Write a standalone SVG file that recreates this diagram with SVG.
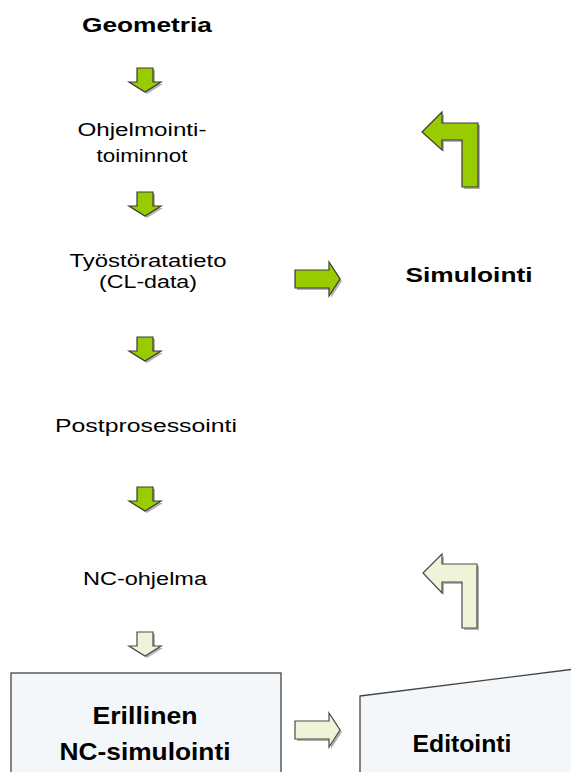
<svg xmlns="http://www.w3.org/2000/svg" width="571" height="772" viewBox="0 0 571 772">
<style>
text{font-family:"Liberation Sans",Arial,sans-serif;fill:#000;text-anchor:middle}
.n{font-size:17.5px}
.b{font-size:20.5px;font-weight:bold}
.bb{font-size:24px;font-weight:bold}
.g{fill:#99cc00;stroke:#3a3a3a;stroke-width:1.2}
.l{fill:#eef4d8;stroke:#4a4a4a;stroke-width:1.2}
.sh{fill:#555;opacity:0.45}
.box{fill:#f4f7fa;stroke:#444;stroke-width:1.3}
</style>
<defs>
<path id="dn" d="M-8,0 H8 V14 H16 L0,24 L-16,14 H-8 Z"/>
<path id="rt" d="M0,-9 H34 V-17 L45,0 L34,17 V9 H0 Z"/>
</defs>
<rect width="571" height="772" fill="#fff"/>
<g id="connectors">
<use href="#dn" class="sh" transform="translate(147,70)"/>
<use href="#dn" class="g" transform="translate(145,68)"/>
<use href="#dn" class="sh" transform="translate(147,194)"/>
<use href="#dn" class="g" transform="translate(145,192)"/>
<use href="#dn" class="sh" transform="translate(147,339)"/>
<use href="#dn" class="g" transform="translate(145,337)"/>
<use href="#dn" class="sh" transform="translate(147,489)"/>
<use href="#dn" class="g" transform="translate(145,487)"/>
<use href="#dn" class="sh" transform="translate(147,634)"/>
<use href="#dn" class="l" transform="translate(145,632)"/>
<use href="#rt" class="sh" transform="translate(297,281)"/>
<use href="#rt" class="g" transform="translate(295,279)"/>
<use href="#rt" class="sh" transform="translate(297,732)"/>
<use href="#rt" class="l" transform="translate(295,730)"/>
<path class="sh" d="M424,134 L444,114 V125 H480 V189 H464 V142 H444 V152 Z"/>
<path class="g" d="M422,132 L442,112 V123 H478 V187 H462 V140 H442 V150 Z"/>
<path class="sh" d="M425,575 L444,556 V566 H479 V630 H464 V584 H444 V595 Z"/>
<path class="l" d="M423,573 L442,554 V564 H477 V628 H462 V582 H442 V593 Z"/>
</g>
<g id="geometria"><text class="b" x="147" y="32" textLength="130" lengthAdjust="spacingAndGlyphs">Geometria</text></g>
<g id="ohjelmointitoiminnot">
<text class="n" x="142" y="136" textLength="129" lengthAdjust="spacingAndGlyphs">Ohjelmointi-</text>
<text class="n" x="142" y="162" textLength="91" lengthAdjust="spacingAndGlyphs">toiminnot</text>
</g>
<g id="tyostoratatieto">
<text class="n" x="148" y="267" textLength="157" lengthAdjust="spacingAndGlyphs">Työstöratatieto</text>
<text class="n" x="148" y="288" textLength="98" lengthAdjust="spacingAndGlyphs">(CL-data)</text>
</g>
<g id="simulointi"><text class="b" x="469" y="282" textLength="127" lengthAdjust="spacingAndGlyphs">Simulointi</text></g>
<g id="postprosessointi"><text class="n" x="146" y="432" textLength="182" lengthAdjust="spacingAndGlyphs">Postprosessointi</text></g>
<g id="ncohjelma"><text class="n" x="145" y="585" textLength="124" lengthAdjust="spacingAndGlyphs">NC-ohjelma</text></g>
<g id="erillinen">
<rect class="box" x="11" y="673" width="270" height="110"/>
<text class="bb" x="145" y="724" textLength="105" lengthAdjust="spacingAndGlyphs">Erillinen</text>
<text class="bb" x="145" y="760" textLength="171" lengthAdjust="spacingAndGlyphs">NC-simulointi</text>
</g>
<g id="editointi">
<path class="box" d="M360,696 L575,669 V780 H360 Z"/>
<text class="bb" x="462" y="752" textLength="99" lengthAdjust="spacingAndGlyphs">Editointi</text>
</g>
</svg>
